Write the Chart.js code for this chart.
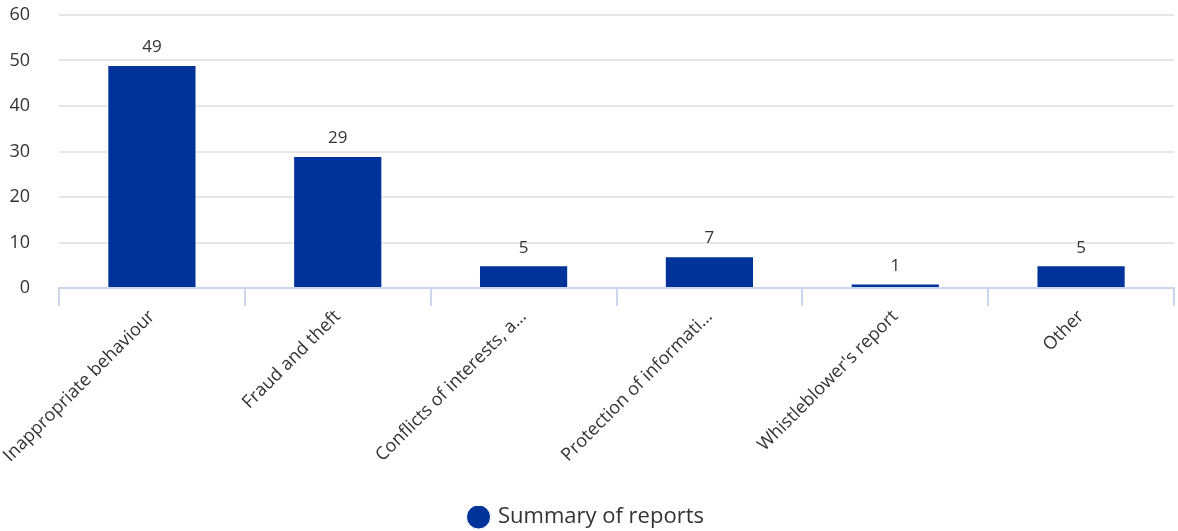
<!DOCTYPE html>
<html>
<head>
<meta charset="utf-8">
<script src="https://cdn.jsdelivr.net/npm/chart.js@4"></script>
<style>
  html, body { margin: 0; padding: 0; background: #fff; }
  #wrap { width: 1178px; height: 531px; }
</style>
</head>
<body>
<div id="wrap"><canvas id="myChart"></canvas></div>
<script>
const CATEGORIES = [
  "Inappropriate behaviour",
  "Fraud and theft",
  "Conflicts of interests, a…",
  "Protection of informati…",
  "Whistleblower's report",
  "Other",
];
const REPORTS = [49, 29, 5, 7, 1, 5];
const Y_TICKS = [0, 10, 20, 30, 40, 50, 60];

const FONT = "'Open Sans', 'Noto Sans', sans-serif";

// value labels above bars
const valueLabels = {
  id: "valueLabels",
  afterLayout(chart) {
    // nudge the legend a bit lower, like the original
    chart.legend.top += 7;
    chart.legend.bottom += 7;
  },
  afterDatasetsDraw(chart) {
    const ctx = chart.ctx;
    const meta = chart.getDatasetMeta(0);
    ctx.save();
    ctx.font = "17px " + FONT;
    ctx.fillStyle = "#333333";
    ctx.textAlign = "center";
    ctx.textBaseline = "bottom";
    meta.data.forEach((bar, i) => {
      ctx.fillText(String(REPORTS[i]), bar.x, bar.y - 9);
    });
    ctx.restore();
  },
};

const ctx = document.getElementById("myChart").getContext("2d");
const myChart = new Chart(ctx, {
  type: "bar",
  data: {
    labels: CATEGORIES,
    datasets: [
      {
        label: "Summary of reports",
        data: REPORTS,
        backgroundColor: "#003399",
        borderColor: "#ffffff",
        borderWidth: 1,
        categoryPercentage: 1,
        barPercentage: 0.48,
      },
    ],
  },
  options: {
    responsive: true,
    maintainAspectRatio: false,
    animation: false,
    layout: { padding: { top: 0, right: 4, left: 0, bottom: 0 } },
    plugins: {
      legend: {
        position: "bottom",
        labels: {
          usePointStyle: true,
          pointStyle: "circle",
          boxWidth: 17,
          boxHeight: 17,
          padding: 0,
          color: "#333333",
          font: { family: FONT, size: 22 },
        },
      },
      tooltip: { enabled: false },
    },
    scales: {
      x: {
        grid: {
          drawOnChartArea: false,
          drawTicks: true,
          tickLength: 18,
          color: "#ccd6eb",
          lineWidth: 2,
        },
        border: { color: "#ccd6eb", width: 2 },
        ticks: {
          minRotation: 45,
          maxRotation: 45,
          color: "#333333",
          font: { family: FONT, size: 18 },
          padding: 0,
        },
        afterFit: (axis) => {
          axis.height = 211;
          axis.paddingLeft = 0;
          axis.paddingRight = 0;
        },
      },
      y: {
        min: 0,
        max: 60,
        afterBuildTicks: (axis) => {
          axis.ticks = Y_TICKS.map((v) => ({ value: v }));
        },
        grid: { color: "#e6e6e6", lineWidth: 2, drawTicks: false },
        border: { display: false },
        ticks: {
          color: "#333333",
          font: { family: FONT, size: 18 },
          padding: 29,
        },
        afterFit: (axis) => {
          axis.width = 59;
          axis.paddingTop = 15;
        },
      },
    },
  },
  plugins: [valueLabels],
});
</script>
</body>
</html>
